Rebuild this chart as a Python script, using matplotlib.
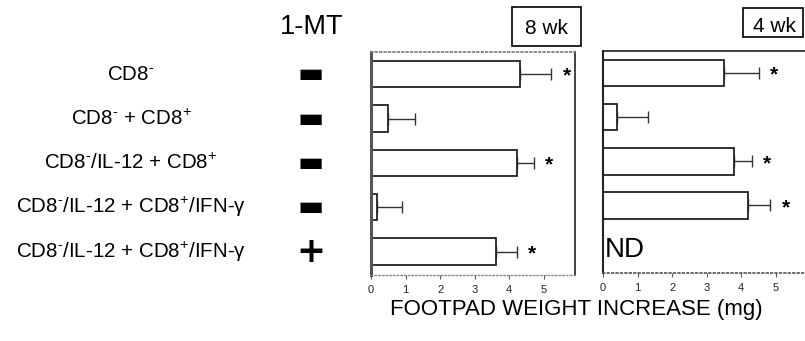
import matplotlib
matplotlib.use("Agg")
import matplotlib.pyplot as plt
import matplotlib.patches as mpatches
from matplotlib.transforms import blended_transform_factory

plt.rcParams['font.family'] = ['Liberation Sans', 'DejaVu Sans']
plt.rcParams['mathtext.fontset'] = 'custom'
plt.rcParams['mathtext.rm'] = 'Liberation Sans'
plt.rcParams['mathtext.it'] = 'Liberation Sans:italic'
plt.rcParams['mathtext.bf'] = 'Liberation Sans:bold'

# ---- data ----
groups = [r"CD8$^{\text{-}}$",
          r"CD8$^{\text{-}}$ + CD8$^{+}$",
          r"CD8$^{\text{-}}$/IL-12 + CD8$^{+}$",
          r"CD8$^{\text{-}}$/IL-12 + CD8$^{+}$/IFN-$\mathrm{\gamma}$",
          r"CD8$^{\text{-}}$/IL-12 + CD8$^{+}$/IFN-$\mathrm{\gamma}$"]
mt_signs = ["▬", "▬", "▬", "▬", "+"]

wk8_values = [4.3, 0.5, 4.23, 0.18, 3.61]
wk8_errors = [0.92, 0.78, 0.47, 0.71, 0.60]
wk8_sig = [True, False, True, False, True]

wk4_values = [3.5, 0.4, 3.8, 4.2]
wk4_errors = [1.0, 0.89, 0.5, 0.63]
wk4_sig = [True, False, True, True]

xticks = [0, 1, 2, 3, 4, 5]
panel_titles = ["8 wk", "4 wk"]
xlabel = "FOOTPAD WEIGHT INCREASE (mg)"
column_title = "1-MT"
nd_label = "ND"

W, H = 805, 341
fig = plt.figure(figsize=(W / 100, H / 100), dpi=100)

def fx(px):
    return px / W

def fy(py):
    return 1 - py / H

ax1 = fig.add_axes([fx(371), fy(275), fx(204), 223 / H])
ax2 = fig.add_axes([fx(603), fy(273), fx(204), 222 / H])

def draw_panel(ax, values, errors, sig):
    pos = list(range(len(values)))
    ax.barh(pos, values, height=0.6, color='white', edgecolor='#222222', linewidth=1.3, zorder=2)
    ax.errorbar(values, pos, xerr=[[0] * len(values), errors], fmt='none',
                ecolor='#333333', elinewidth=1.0, capsize=4, capthick=1.0, zorder=1)
    for p, v, e, s in zip(pos, values, errors, sig):
        if s:
            ax.text(v + e + 0.45, p + 0.05, "*", ha='center', va='center', fontsize=15,
                    fontweight='bold', color='black')
    ax.set_xlim(0, 5.9)
    ax.set_ylim(4.53, -0.5)
    ax.set_yticks([])
    ax.set_xticks(xticks)
    ax.set_xticklabels([str(t) for t in xticks], fontsize=8, color='#222222')
    ax.tick_params(axis='x', length=3, width=0.8, pad=4, color='#555555')

draw_panel(ax1, wk8_values, wk8_errors, wk8_sig)
draw_panel(ax2, wk4_values, wk4_errors, wk4_sig)

# spines
ax1.spines['left'].set_linewidth(2.2)
ax1.spines['left'].set_color('#555555')
ax1.spines['top'].set_linestyle(':')
ax1.spines['top'].set_color('#777777')
ax1.spines['top'].set_linewidth(1.2)
ax1.spines['right'].set_color('#222222')
ax1.spines['right'].set_linewidth(1.2)
ax1.spines['bottom'].set_linestyle(':')
ax1.spines['bottom'].set_color('#888888')
ax1.spines['bottom'].set_linewidth(1.0)

ax2.spines['left'].set_linewidth(1.5)
ax2.spines['left'].set_color('#222222')
ax2.spines['top'].set_color('#222222')
ax2.spines['top'].set_linewidth(1.2)
ax2.spines['right'].set_visible(False)
ax2.spines['bottom'].set_linestyle(':')
ax2.spines['bottom'].set_color('#555555')
ax2.spines['bottom'].set_linewidth(1.2)

ax2.text(0.05, 4.0, nd_label, fontsize=20, ha='left', va='center', color='black')

# row labels and 1-MT signs
tr = blended_transform_factory(fig.transFigure, ax1.transData)
for i, (g, s) in enumerate(zip(groups, mt_signs)):
    fig.text(fx(131), i, g, transform=tr, ha='center', va='center', fontsize=14.8)
    if s == "+":
        fig.text(fx(311), i + 0.02, s, transform=tr, ha='center', va='center',
                 fontsize=25, fontweight='bold', family='DejaVu Sans')
    else:
        fig.text(fx(311), i, s, transform=tr, ha='center', va='center',
                 fontsize=20, family='DejaVu Sans')

fig.text(fx(312), fy(27), column_title, ha='center', va='center', fontsize=19.5)

# panel title boxes
boxes = [(512, 7, 69, 39, 546.5, 28), (743, 8, 60, 29, 774, 27)]
for title, (bx, by, bw, bh, tx, ty) in zip(panel_titles, boxes):
    fig.patches.append(mpatches.Rectangle((fx(bx), fy(by + bh)), bw / W, bh / H,
                                          transform=fig.transFigure, fill=False,
                                          edgecolor='black', linewidth=1.2))
    fig.text(fx(tx), fy(ty), title, ha='center', va='center', fontsize=15)

fig.text(fx(576), fy(310), xlabel, ha='center', va='center', fontsize=16)

fig.savefig("out.png", dpi=100, facecolor='white')
